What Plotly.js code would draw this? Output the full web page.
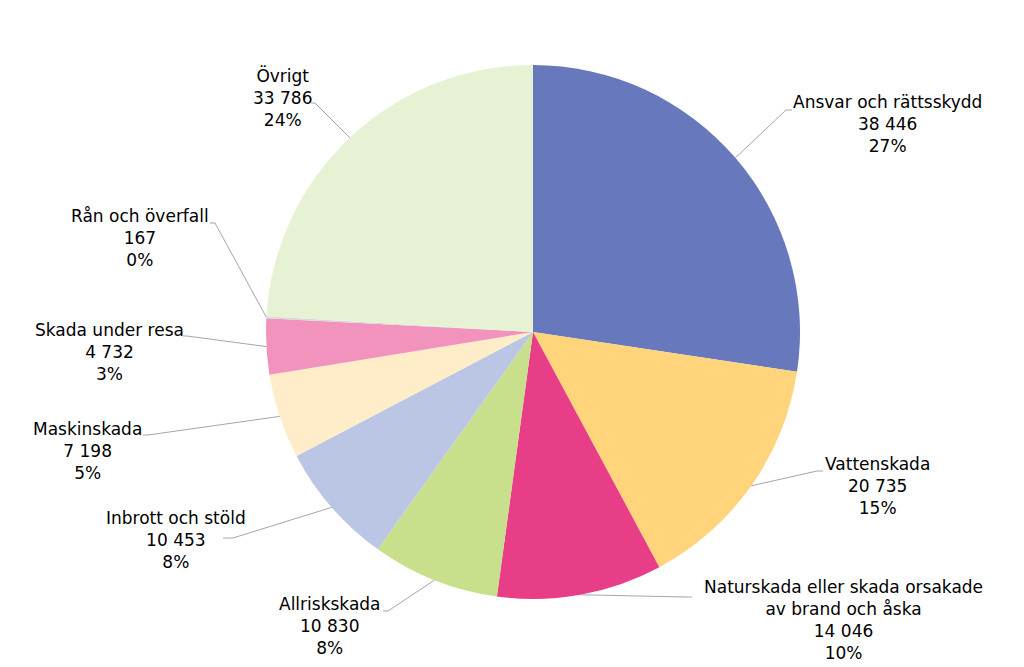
<!DOCTYPE html>
<html>
<head>
<meta charset="utf-8">
<script src="https://cdn.plot.ly/plotly-3.0.1.min.js"></script>
<style>html,body{margin:0;padding:0;background:#fff;}#chart{width:1024px;height:667px;}</style>
</head>
<body>
<div id="chart"></div>
<script>
// ---- data ----
const categories = [
  "Ansvar och rättsskydd",
  "Vattenskada",
  "Naturskada eller skada orsakade<br>av brand och åska",
  "Allriskskada",
  "Inbrott och stöld",
  "Maskinskada",
  "Skada under resa",
  "Rån och överfall",
  "Övrigt"
];
const values = [38446, 20735, 14046, 10830, 10453, 7198, 4732, 167, 33786];
const percentLabels = ["27%", "15%", "10%", "8%", "8%", "5%", "3%", "0%", "24%"];

// ---- styles / layout ----
const colors = ["#6779BC", "#FFD47A", "#E83E87", "#C8DF8C", "#BBC6E4", "#FEEDC8", "#F293BD", "#D9D9D9", "#E6F2D3"];
const W = 1024, H = 667;
const cx = 533, cy = 332, R = 267;
// label text centre (px)
const labelPos = [[887,124],[877,486],[843,620],[330,626],[176,540],[87,451],[109,352],[140,238],[282,98]];
// leader line elbow and end (px)
const leaderPts = [
  [[786,110],[792,110]],
  [[817,471],[823,471]],
  [[686,597],[692,597]],
  [[388,611],[383,611]],
  [[233,538],[223,538]],
  [[148,435],[143,435]],
  [[187,336],[183,336]],
  [[215,223],[210,223]],
  [[315,103],[311,103]]
];

function fmt(n){ return String(n).replace(/\B(?=(\d{3})+(?!\d))/g, " "); }
const total = values.reduce((a,b)=>a+b,0);

const annotations = [];
const shapes = [];
let cum = 0;
values.forEach((v,i)=>{
  const mid = (cum + v/2)/total*2*Math.PI;
  cum += v;
  const ax = cx + R*Math.sin(mid), ay = cy - R*Math.cos(mid);
  annotations.push({
    xref:'paper', yref:'paper', x: labelPos[i][0]/W, y: 1 - labelPos[i][1]/H,
    xanchor:'center', yanchor:'middle', showarrow:false, align:'center',
    text: categories[i] + '<br>' + fmt(v) + '<br>' + percentLabels[i],
    font:{family:'Verdana, "DejaVu Sans", sans-serif', size:17, color:'#000'}
  });
  const p = leaderPts[i];
  const path = 'M' + (ax/W) + ',' + (1-ay/H) + ' L' + (p[0][0]/W) + ',' + (1-p[0][1]/H) + ' L' + (p[1][0]/W) + ',' + (1-p[1][1]/H);
  shapes.push({type:'path', xref:'paper', yref:'paper', path: path, line:{color:'#A6A6A6', width:1}});
});

const trace = {
  type:'pie',
  labels: categories,
  values: values,
  sort:false,
  direction:'clockwise',
  rotation:0,
  textinfo:'none',
  hoverinfo:'label+value+percent',
  marker:{colors: colors, line:{width:0}},
  domain:{x:[(cx-R)/W,(cx+R)/W], y:[1-(cy+R)/H, 1-(cy-R)/H]},
  showlegend:false
};

Plotly.newPlot('chart',[trace],{
  width:W, height:H,
  margin:{l:0,r:0,t:0,b:0},
  paper_bgcolor:'#fff',
  showlegend:false,
  annotations: annotations,
  shapes: shapes
},{displayModeBar:false, staticPlot:true});
</script>
</body>
</html>
